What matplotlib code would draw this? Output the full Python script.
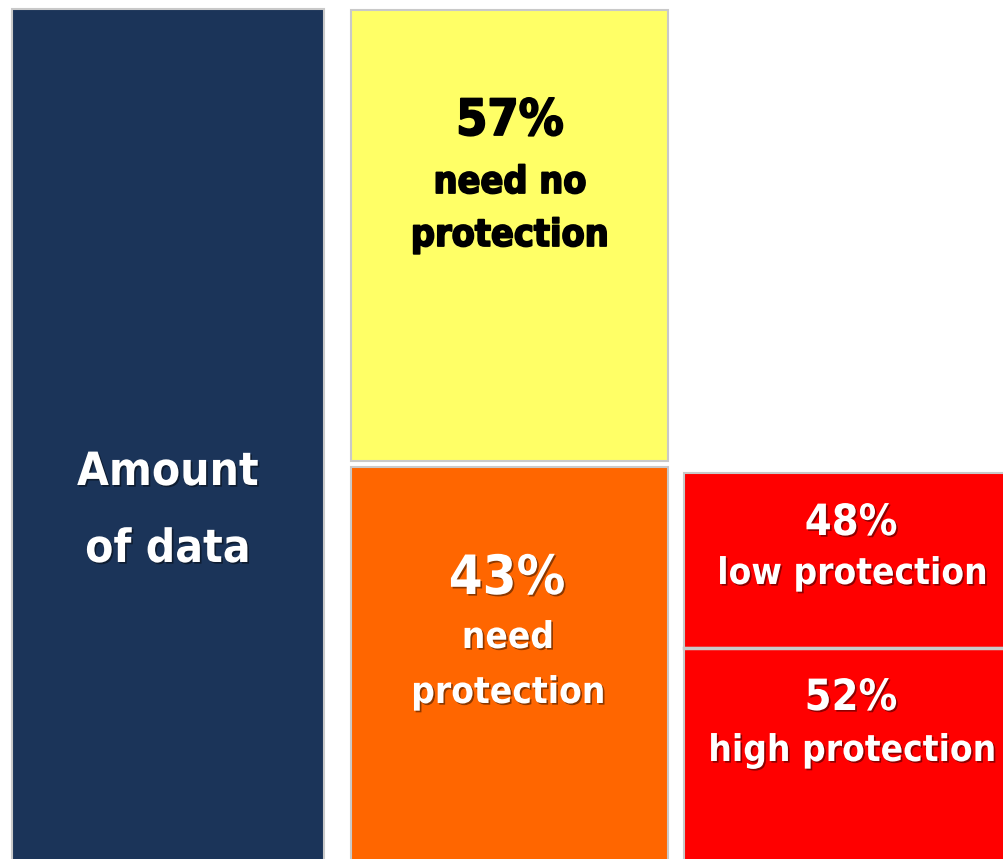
import matplotlib
matplotlib.use("Agg")
import matplotlib.pyplot as plt
import matplotlib.patheffects as pe
from matplotlib.patches import Rectangle

# ---- data ----
share_pct = [57, 43]            # need no protection / need protection
share_labels = ["need no\nprotection", "need\nprotection"]
prot_pct = [48, 52]             # low / high protection among protected
prot_labels = ["low protection", "high protection"]
total_label = "Amount\nof data"

# ---- layout (pixel coordinates of the reference) ----
W, H = 1004, 859
col_x = [(12, 324), (351, 668), (684, 1010)]
mid_split = (461, 467)
top_mid = 10
top_total = 9
red_top = 473
red_split = 648

colors = {"total": "#1b3459", "no": "#ffff66", "need": "#ff6600", "red": "#ff0000"}
edge = "#c9c9c9"

fig = plt.figure(figsize=(W / 100, H / 100), dpi=100)
ax = fig.add_axes([0, 0, 1, 1])
ax.set_xlim(0, W)
ax.set_ylim(H, 0)
ax.axis("off")

def box(x0, x1, y0, y1, c):
    ax.add_patch(Rectangle((x0, y0), x1 - x0, y1 - y0, facecolor=c,
                           edgecolor=edge, linewidth=1.5))

box(col_x[0][0], col_x[0][1], top_total, H + 5, colors["total"])
box(col_x[1][0], col_x[1][1], top_mid, mid_split[0], colors["no"])
box(col_x[1][0], col_x[1][1], mid_split[1], H + 5, colors["need"])
box(col_x[2][0], col_x[2][1], red_top, red_split, colors["red"])
box(col_x[2][0], col_x[2][1], red_split, H + 5, colors["red"])
ax.plot([col_x[2][0], W], [red_split, red_split], color=edge, lw=2.5)

shadow = [pe.withSimplePatchShadow(offset=(1.2, -1.2), shadow_rgbFace="black", alpha=0.45)]
heavy = [pe.withStroke(linewidth=1.3, foreground="black")]

def lines(x, ys, text, size, color, fx=None):
    for y, t in zip(ys, text.split("\n")):
        ax.text(x, y, t, ha="center", va="baseline", color=color, fontsize=size,
                family="DejaVu Sans", stretch="condensed", fontweight="bold",
                path_effects=fx)

lines(168, [485, 562], total_label, 33, "white", shadow)

lines(510, [135], f"{share_pct[0]}%", 36, "black", heavy)
lines(510, [193, 246], share_labels[0], 27, "black", heavy)

lines(507, [594], f"{share_pct[1]}%", 39, "white", shadow)
lines(508, [648, 703], share_labels[1], 26.5, "white", shadow)

lines(851, [535], f"{prot_pct[0]}%", 31, "white", shadow)
lines(852, [584], prot_labels[0], 26.5, "white", shadow)
lines(851, [710], f"{prot_pct[1]}%", 31, "white", shadow)
lines(852, [761], prot_labels[1], 26.5, "white", shadow)

fig.savefig("out.png", dpi=100)
